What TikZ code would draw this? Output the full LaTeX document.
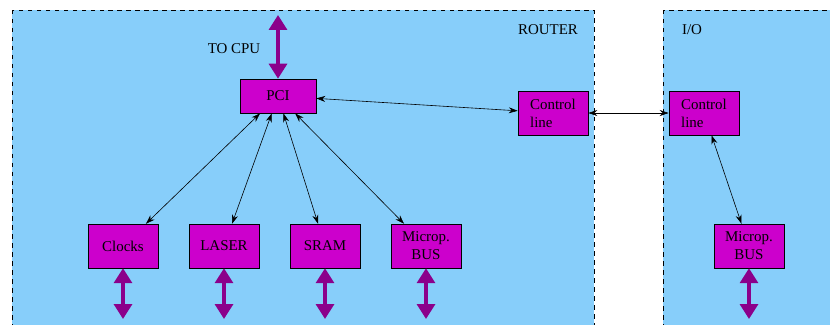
\documentclass[tikz,border=0pt]{standalone}
\usepackage{fontspec}
\setmainfont{Liberation Serif}
\usetikzlibrary{arrows.meta}

\definecolor{skyblue}{RGB}{135,206,250}
\definecolor{boxmag}{RGB}{204,0,204}
\definecolor{busviolet}{RGB}{139,0,139}

\tikzset{
    unit/.style={draw, fill=boxmag, minimum width=1.645cm, minimum height=1.03cm, inner sep=2pt},
    link/.style={{Stealth[length=6pt,width=4pt]}-{Stealth[length=6pt,width=4pt]}, thin},
    bus/.style={{Triangle[length=10pt,width=12pt]}-{Triangle[length=10pt,width=12pt]}, busviolet, line width=2.2pt},
}

\begin{document}
\begin{tikzpicture}[x=0.0235cm, y=-0.0235cm]
    \useasboundingbox (0,0) rectangle (830,324);
    \begin{scope}
        \clip (0,0) rectangle (830,324);
        \draw[dashed, fill=skyblue] (12,10) rectangle (594,340);
        \draw[dashed, fill=skyblue] (663,10) rectangle (850,340);
    \end{scope}

    \node (router) at (548,30) {ROUTER};
    \node (io) at (692,30) {I/O};
    \node (tocpu) at (234,49) {TO CPU};

    \node[unit, minimum width=1.786cm, minimum height=0.8cm] (pci) at (278,96) {PCI};
    \node[unit, align=left] (ctrlr) at (553,113) {Control\\line};
    \node[unit, align=left] (ctrlio) at (704,113) {Control\\line};

    \node[unit] (clocks) at (123,246) {Clocks};
    \node[unit] (laser) at (224,246) {LASER};
    \node[unit] (sram) at (325,246) {SRAM};
    \node[unit, align=center] (microp) at (426,246) {Microp.\\BUS};
    \node[unit, align=center] (microio) at (749,246) {Microp.\\BUS};

    \coordinate (cpu) at (278,15);
    \coordinate (clocksout) at (123,319);
    \coordinate (laserout) at (224,319);
    \coordinate (sramout) at (325,319);
    \coordinate (micropout) at (426,319);
    \coordinate (microioout) at (749,319);

    \draw[bus] (cpu) -- (pci);
    \draw[bus] (clocks) -- (clocksout);
    \draw[bus] (laser) -- (laserout);
    \draw[bus] (sram) -- (sramout);
    \draw[bus] (microp) -- (micropout);
    \draw[bus] (microio) -- (microioout);

    \draw[link] (pci) -- (clocks);
    \draw[link] (pci) -- (laser);
    \draw[link] (pci) -- (sram);
    \draw[link] (pci) -- (microp);
    \draw[link] (pci) -- (ctrlr);
    \draw[link] (ctrlr) -- (ctrlio);
    \draw[link] (ctrlio) -- (microio);
\end{tikzpicture}
\end{document}
